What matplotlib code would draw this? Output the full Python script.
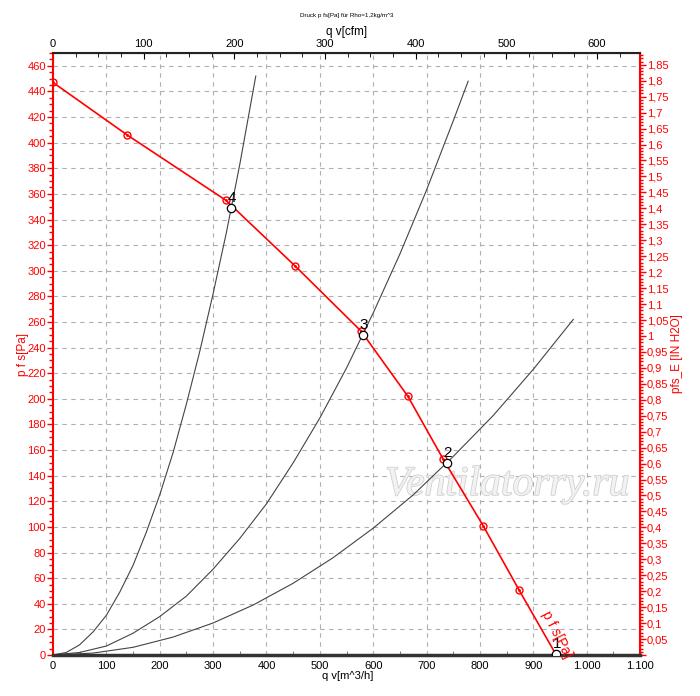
import matplotlib
matplotlib.use('Agg')
import matplotlib.pyplot as plt
from matplotlib.ticker import MultipleLocator, FuncFormatter
import matplotlib.patheffects as pe

plt.rcParams['font.family'] = ['Liberation Sans', 'DejaVu Sans']

# fan curve p_fs [Pa] over q_v [m^3/h] (marker points)
fan_q = [0, 139, 324, 453, 577, 665, 731, 806, 873, 943]
fan_p = [447, 406, 355, 304, 253, 202, 153, 101, 51, 0]

# system curves
sys4_q = [0, 25, 50, 75, 100, 125, 150, 175, 200, 225, 250, 275, 300, 325, 350, 380]
sys4_p = [0, 2, 8, 18, 31, 49, 70, 96, 125, 158, 196, 237, 282, 330, 383, 452]
sys3_q = [0, 50, 100, 150, 200, 250, 300, 350, 400, 450, 500, 550, 600, 650, 700, 750, 778]
sys3_p = [0, 2, 7, 17, 30, 46, 67, 91, 118, 150, 185, 224, 267, 313, 363, 417, 448]
sys2_q = [0, 75, 150, 225, 300, 375, 450, 525, 600, 675, 750, 825, 900, 975]
sys2_p = [0, 1.5, 6, 14, 25, 39, 56, 76, 99, 125, 155, 187, 223, 262]

# operating points
op_labels = ['1', '2', '3', '4']
op_q = [943, 738, 581, 334]
op_p = [1, 150, 250, 349]

PA_PER_INH2O = 249.089
CFM_PER_M3H = 0.588578

fig = plt.figure(figsize=(7, 6.96), dpi=100)
ax = fig.add_axes([53/700, 41/696, 587/700, 602/696])

# dashed grid
grid_kw = dict(color='#b0b0b0', linestyle=(0, (4, 4)), linewidth=0.8)
for x in range(100, 1100, 100):
    ax.axvline(x, **grid_kw, zorder=0)
for y in range(20, 470, 20):
    ax.axhline(y, **grid_kw, zorder=0)

# watermark
ax.text(1081, 133, 'Ventilatorry.ru', fontsize=30, style='italic',
        family=['Liberation Serif'], color='#f2f2f2', ha='right', va='center',
        path_effects=[pe.withStroke(linewidth=1.2, foreground='#d0d0d0')], zorder=1)

for q, p in [(sys4_q, sys4_p), (sys3_q, sys3_p), (sys2_q, sys2_p)]:
    ax.plot(q, p, color='#444444', linewidth=0.8, zorder=2)

ax.plot(fan_q, fan_p, color='red', linewidth=1.2, marker='o', markersize=5,
        markerfacecolor='none', markeredgecolor='red', markeredgewidth=1, zorder=3)
ax.plot(fan_q, fan_p, linestyle='none', marker='.', markersize=2, color='red', zorder=3)

ax.plot(op_q, op_p, linestyle='none', marker='o', markersize=6,
        markerfacecolor='white', markeredgecolor='black', markeredgewidth=0.9, zorder=4)
for lab, q, p in zip(op_labels, op_q, op_p):
    ax.text(q + 2, p + 2, lab, fontsize=11, color='black', ha='center', va='bottom', zorder=5)

ax.text(944, 16, 'p f s[Pa]', color='red', fontsize=10, rotation=-63,
        ha='center', va='center', zorder=5)

ax.set_xlim(0, 1100)
ax.set_ylim(0, 470)

ax.xaxis.set_major_locator(MultipleLocator(100))
ax.xaxis.set_minor_locator(MultipleLocator(50))
ax.xaxis.set_major_formatter(FuncFormatter(lambda v, _: f"{int(round(v)):,}".replace(',', '.')))
ax.yaxis.set_major_locator(MultipleLocator(20))
ax.yaxis.set_minor_locator(MultipleLocator(5))
ax.tick_params(axis='x', which='major', labelsize=8, length=0, pad=4)
ax.tick_params(axis='x', which='minor', length=3, direction='in', color='#666666')
ax.tick_params(axis='y', which='major', colors='red', labelsize=8, length=4, width=1, pad=1)
ax.tick_params(axis='y', which='minor', colors='red', length=3, width=1)

ax.spines['left'].set_color('red')
ax.spines['left'].set_linewidth(1.5)
ax.spines['right'].set_color('red')
ax.spines['right'].set_linewidth(1.5)
ax.spines['top'].set_color('#222222')
ax.spines['top'].set_linewidth(1.5)
ax.spines['bottom'].set_color('#333333')
ax.spines['bottom'].set_linewidth(2.5)

top = ax.secondary_xaxis('top', functions=(lambda q: q * CFM_PER_M3H, lambda c: c / CFM_PER_M3H))
top.xaxis.set_major_locator(MultipleLocator(100))
top.xaxis.set_minor_locator(MultipleLocator(25))
top.tick_params(which='major', labelsize=8, length=4, direction='in', pad=3)
top.tick_params(which='minor', length=3, direction='in')

right = ax.secondary_yaxis('right', functions=(lambda p: p / PA_PER_INH2O, lambda h: h * PA_PER_INH2O))
right.yaxis.set_major_locator(MultipleLocator(0.05))
right.yaxis.set_minor_locator(MultipleLocator(0.01))


def fmt_inh2o(v, _):
    if v < 0.001:
        return ''
    s = f"{v:.2f}".rstrip('0').rstrip('.')
    return s.replace('.', ',')


right.yaxis.set_major_formatter(FuncFormatter(fmt_inh2o))
right.tick_params(which='major', colors='red', labelsize=8, length=4, width=1, pad=1)
right.tick_params(which='minor', colors='red', length=2, width=1)
right.spines['right'].set_color('red')

# axis titles
fig.text(348/700, 1 - 676/696, 'q v[m^3/h]', fontsize=8, ha='center', va='center')
fig.text(347/700, 1 - 32/696, 'q v[cfm]', fontsize=8.5, ha='center', va='center')
fig.text(23/700, 1 - 355/696, 'p f s[Pa]', fontsize=8.5, color='red', rotation=90,
         ha='center', va='center')
fig.text(677/700, 1 - 354/696, 'pfs_E [IN H2O]', fontsize=8.5, color='red', rotation=90,
         ha='center', va='center')
fig.text(347/700, 1 - 15/696, 'Druck p fs[Pa] für Rho=1,2kg/m^3', fontsize=4.5,
         ha='center', va='center')

fig.savefig('out.png', dpi=100)
